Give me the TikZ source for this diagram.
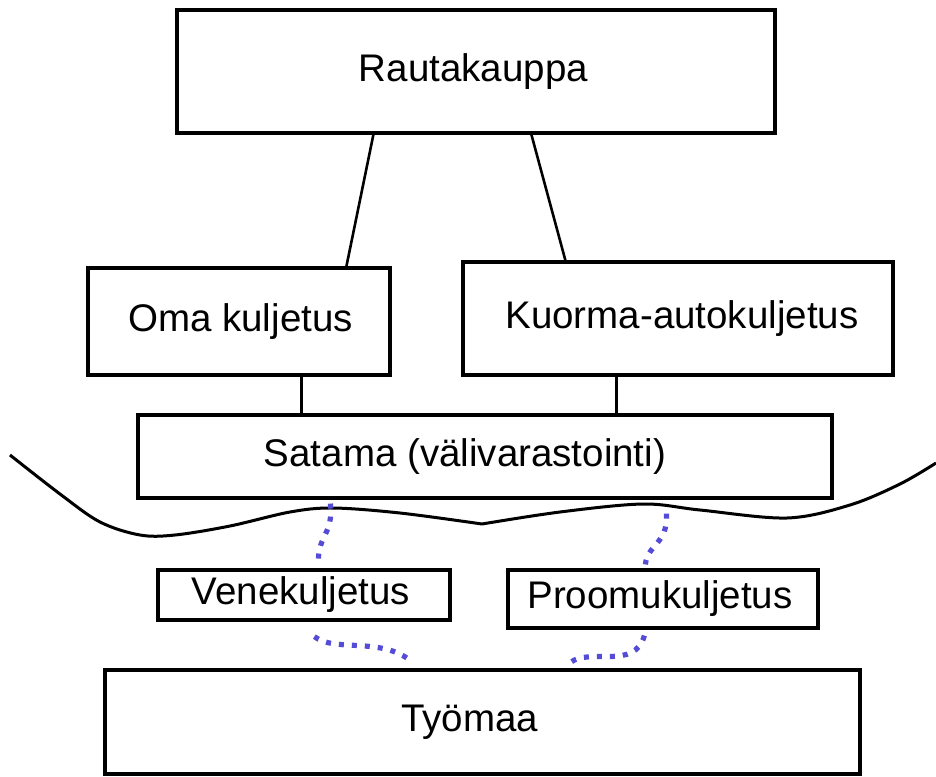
\documentclass[tikz,border=0pt]{standalone}
\usepackage{fontspec}
\setmainfont{Liberation Sans}
\usetikzlibrary{calc}
\definecolor{dotblue}{RGB}{84,76,214}
\tikzset{
  box/.style={draw=black, line width=3.2pt, fill=white, inner sep=0pt,
    font=\fontsize{38.5}{46}\selectfont},
  link/.style={draw=black, line width=2.6pt},
  wave/.style={draw=black, line width=3pt},
  route/.style={draw=dotblue, line width=5.2pt, dash pattern=on 5pt off 8pt}
}
\begin{document}
\begin{tikzpicture}[x=1pt, y=-1pt]
\useasboundingbox (0,0) rectangle (936,776);

% boxes
\node[box, minimum width=598pt, minimum height=123pt] (rk) at (476,71.5) {\hspace*{-5pt}Rautakauppa};
\node[box, minimum width=302pt, minimum height=107pt] (oma) at (239,321.5) {\hspace*{3pt}Oma kuljetus};
\node[box, minimum width=430pt, minimum height=113pt] (kuorma) at (678,318.5) {\hspace*{8pt}Kuorma-autokuljetus};
\node[box, minimum width=694pt, minimum height=83pt] (sat) at (485,456.5) {\hspace*{-40pt}Satama (välivarastointi)};
\node[box, minimum width=292pt, minimum height=50pt] (vene) at (304,595) {\hspace*{-6pt}Venekuljetus};
\node[box, minimum width=310pt, minimum height=58pt] (proomu) at (663,599) {\hspace*{-6pt}Proomukuljetus};
\node[box, minimum width=755pt, minimum height=104pt] (tyo) at (482.5,722) {\hspace*{-26pt}Työmaa};

% solid connectors
\draw[link] ($(rk.south west)+(198,0)$) -- ($(oma.north west)+(260,0)$);
\draw[link] ($(rk.south west)+(356,0)$) -- ($(kuorma.north west)+(104,0)$);
\draw[link] ($(oma.south west)+(215,0)$) -- ($(sat.north west)+(165,0)$);
\draw[link] ($(kuorma.south west)+(155,0)$) -- ($(sat.north west)+(480,0)$);

% shoreline
\draw[wave] plot[smooth, tension=0.55] coordinates {
  (10,455) (60,494) (100,522) (140,535) (175,535) (230,526) (290,512)
  (333,508) (400,513) (482,524)};
\draw[wave] plot[smooth, tension=0.55] coordinates {
  (482,524) (560,512) (643,504) (700,510) (787,518) (850,505) (900,484) (936,463)};

% water routes
\coordinate (a1) at ($(sat.south west)+(194,4)$);
\coordinate (a2) at ($(vene.north west)+(162,-8)$);
\draw[route] (a1) .. controls ($(a1)+(3,30)$) and ($(a2)+(0,-25)$) .. (a2);
\coordinate (b1) at ($(vene.south west)+(158,15)$);
\coordinate (b2) at ($(tyo.north west)+(308,-7)$);
\draw[route] (b1) .. controls ($(b1)+(20,16)$) and ($(b2)+(-30,-25)$) .. (b2);
\coordinate (c1) at ($(sat.south west)+(530,14)$);
\coordinate (c2) at ($(proomu.north west)+(139,-4)$);
\draw[route] (c1) .. controls ($(c1)+(2,30)$) and ($(c2)+(2,-20)$) .. (c2);
\coordinate (d1) at ($(proomu.south west)+(138,6)$);
\coordinate (d2) at ($(tyo.north west)+(467,-6)$);
\draw[route] (d1) .. controls ($(d1)+(-10,35)$) and ($(d2)+(20,-15)$) .. (d2);
\end{tikzpicture}
\end{document}
